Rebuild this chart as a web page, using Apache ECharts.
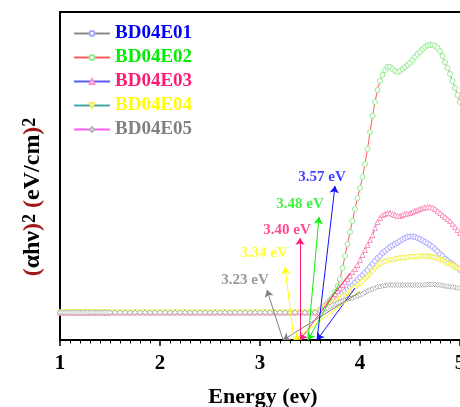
<!DOCTYPE html>
<html>
<head>
<meta charset="utf-8">
<script src="https://cdn.jsdelivr.net/npm/echarts@6/dist/echarts.min.js"></script>
<style>
  html, body { margin: 0; padding: 0; background: #fff; }
  #chart { width: 460px; height: 407px; }
</style>
</head>
<body>
<div id="chart"></div>
<script>
// Tauc plot data: (αhν)² against photon energy for five samples.
const sampleNames = ['BD04E01', 'BD04E02', 'BD04E03', 'BD04E04', 'BD04E05'];

// Flat sub-gap region, where all five traces coincide.
const flatEnergy = [
  1.000, 1.025, 1.050, 1.075, 1.100, 1.125, 1.150, 1.175, 1.200, 1.225,
  1.250, 1.275, 1.300, 1.325, 1.350, 1.375, 1.400, 1.425, 1.450, 1.475,
  1.500, 1.55, 1.60, 1.65, 1.70, 1.75, 1.80, 1.85, 1.90, 1.95,
  2.00, 2.05, 2.10, 2.15, 2.20, 2.25, 2.30, 2.35, 2.40, 2.45,
  2.50, 2.55, 2.60, 2.65, 2.70, 2.75, 2.80, 2.85, 2.90, 2.95,
  3.00, 3.05, 3.10, 3.15, 3.20, 3.25, 3.30, 3.35, 3.40, 3.45,
  3.50, 3.55
];
const flatSignal = [
  2.75, 2.75, 2.75, 2.75, 2.75, 2.75, 2.75, 2.75, 2.75, 2.75,
  2.75, 2.75, 2.75, 2.75, 2.75, 2.75, 2.75, 2.75, 2.75, 2.75,
  2.75, 2.75, 2.75, 2.75, 2.75, 2.75, 2.75, 2.75, 2.75, 2.75,
  2.75, 2.75, 2.75, 2.75, 2.75, 2.75, 2.75, 2.75, 2.75, 2.75,
  2.75, 2.75, 2.75, 2.75, 2.75, 2.75, 2.75, 2.75, 2.75, 2.75,
  2.75, 2.75, 2.75, 2.75, 2.75, 2.75, 2.75, 2.75, 2.75, 2.75,
  2.75, 2.75
];

// Absorption edge and above.
const riseEnergy = [
  3.600, 3.625, 3.650, 3.675, 3.700, 3.725, 3.750, 3.775, 3.800, 3.825,
  3.850, 3.875, 3.900, 3.925, 3.950, 3.975, 4.000, 4.025, 4.050, 4.075,
  4.100, 4.125, 4.150, 4.175, 4.200, 4.225, 4.250, 4.275, 4.300, 4.325,
  4.350, 4.375, 4.400, 4.425, 4.450, 4.475, 4.500, 4.525, 4.550, 4.575,
  4.600, 4.625, 4.650, 4.675, 4.700, 4.725, 4.750, 4.775, 4.800, 4.825,
  4.850, 4.875, 4.900, 4.925, 4.950, 4.975, 5.000
];
const riseE01 = [
  3.0, 3.2, 3.4, 3.6, 3.8, 4.0, 4.2, 4.4, 4.55, 4.7,
  4.9, 5.1, 5.3, 5.5, 5.75, 6.0, 6.25, 6.5, 6.75, 7.0,
  7.3, 7.6, 7.9, 8.2, 8.4, 8.7, 8.9, 9.1, 9.3, 9.45,
  9.6, 9.75, 9.9, 10.05, 10.2, 10.3, 10.35, 10.35, 10.3, 10.2,
  10.1, 9.95, 9.8, 9.65, 9.5, 9.3, 9.1, 8.85, 8.6, 8.4,
  8.15, 7.95, 7.75, 7.6, 7.4, 7.2, 7.0
];
const riseE02 = [
  3.0, 3.2, 3.45, 3.7, 4.0, 4.3, 4.8, 5.4, 6.1, 7.2,
  8.4, 9.6, 10.8, 11.9, 13.1, 14.2, 15.2, 16.3, 17.6, 19.1,
  20.8, 22.4, 23.8, 25.0, 25.9, 26.5, 27.0, 27.3, 27.3, 27.1,
  26.9, 26.8, 26.9, 27.1, 27.3, 27.5, 27.7, 28.0, 28.3, 28.6,
  28.8, 29.1, 29.3, 29.45, 29.5, 29.5, 29.4, 29.2, 28.9, 28.4,
  27.8, 27.2, 26.6, 25.9, 25.2, 24.5, 23.8
];
const riseE03 = [
  3.1, 3.3, 3.5, 3.7, 4.0, 4.3, 4.6, 4.9, 5.2, 5.5,
  5.8, 6.1, 6.4, 6.8, 7.1, 7.5, 8.0, 8.5, 9.0, 9.5,
  10.0, 10.5, 11.2, 11.8, 12.2, 12.5, 12.6, 12.7, 12.7, 12.6,
  12.5, 12.4, 12.4, 12.5, 12.6, 12.65, 12.7, 12.8, 12.9, 13.0,
  13.1, 13.2, 13.25, 13.3, 13.3, 13.25, 13.1, 12.9, 12.7, 12.5,
  12.3, 12.1, 11.9, 11.6, 11.3, 11.0, 10.7
];
const riseE04 = [
  3.0, 3.1, 3.25, 3.4, 3.5, 3.65, 3.8, 3.95, 4.1, 4.25,
  4.4, 4.6, 4.8, 5.0, 5.2, 5.4, 5.6, 5.8, 6.05, 6.3,
  6.5, 6.8, 7.1, 7.35, 7.55, 7.7, 7.8, 7.9, 7.95, 8.0,
  8.05, 8.1, 8.15, 8.2, 8.2, 8.25, 8.25, 8.3, 8.3, 8.3,
  8.35, 8.35, 8.35, 8.35, 8.3, 8.25, 8.2, 8.1, 8.0, 7.9,
  7.75, 7.6, 7.5, 7.4, 7.25, 7.1, 7.0
];
const riseE05 = [
  2.9, 3.0, 3.1, 3.2, 3.35, 3.5, 3.6, 3.7, 3.8, 3.9,
  4.0, 4.1, 4.15, 4.2, 4.3, 4.4, 4.5, 4.6, 4.75, 4.9,
  5.0, 5.1, 5.2, 5.3, 5.35, 5.4, 5.45, 5.5, 5.5, 5.5,
  5.5, 5.5, 5.5, 5.5, 5.5, 5.5, 5.5, 5.5, 5.5, 5.5,
  5.5, 5.5, 5.52, 5.55, 5.55, 5.55, 5.55, 5.5, 5.5, 5.45,
  5.4, 5.35, 5.3, 5.3, 5.25, 5.2, 5.2
];

// Optical band gaps from the linear extrapolations (same order as the samples).
const gapEnergy = [3.57, 3.48, 3.40, 3.34, 3.23];
const gapText = ['3.57 eV', '3.48 eV', '3.40 eV', '3.34 eV', '3.23 eV'];
// Upper point of each linear fit on the absorption edge.
const fitEndEnergy = [3.95, 3.79, 3.90, 4.00, 4.00];
const fitEndSignal = [5.2, 5.6, 6.7, 4.9, 4.8];

// Where each gap callout sits: arrow tip and text centre, in axis units.
const calloutTip = [[3.75, 15.4], [3.59, 12.3], [3.40, 10.2], [3.25, 7.3], [3.07, 5.0]];
const calloutText = [[3.62, 16.3], [3.40, 13.6], [3.27, 11.0], [3.04, 8.7], [2.85, 6.0]];

// Styles
const FONT = '"Liberation Serif", "Times New Roman", serif';
const lineColors = ['#8a8a8a', '#ff5c5c', '#5c5cff', '#4aa3a3', '#ff5cff'];
const markerColors = ['#a9a9ff', '#92ee92', '#ff93c0', '#f2f25e', '#b4b4b4'];
const markerShapes = ['circle', 'circle', 'triangle', 'path://M0,0L10,0L5,9Z', 'diamond'];
const nameColors = ['#0000ff', '#00ee00', '#ff1a75', '#ffff00', '#808080'];
const gapColors = ['#1010ff', '#10ee10', '#ff1a75', '#ffff00', '#808080'];
const riseSets = [riseE01, riseE02, riseE03, riseE04, riseE05];

const chart = echarts.init(document.getElementById('chart'), null, { renderer: 'canvas' });

const curveSeries = sampleNames.map((name, i) => ({
  name,
  type: 'line',
  data: flatEnergy.map((e, k) => [e, flatSignal[k]])
    .concat(riseEnergy.map((e, k) => [e, riseSets[i][k]])),
  symbol: markerShapes[i],
  symbolSize: 5,
  showAllSymbol: true,
  lineStyle: { color: lineColors[i], width: 1 },
  itemStyle: { color: '#fff', borderColor: markerColors[i], borderWidth: 1 },
  emphasis: { disabled: true },
  z: 2
}));

const fitLines = {
  type: 'lines',
  coordinateSystem: 'cartesian2d',
  symbol: ['arrow', 'none'],
  symbolSize: 7,
  lineStyle: { width: 1, opacity: 1 },
  data: gapEnergy.map((g, i) => ({
    coords: [[g, 0], [fitEndEnergy[i], fitEndSignal[i]]],
    lineStyle: { color: gapColors[i] }
  })),
  z: 4
};

const calloutLines = {
  type: 'lines',
  coordinateSystem: 'cartesian2d',
  symbol: ['none', 'arrow'],
  symbolSize: 7,
  lineStyle: { width: 1, opacity: 1 },
  data: gapEnergy.map((g, i) => ({
    coords: [[g, 0], calloutTip[i]],
    lineStyle: { color: gapColors[i] }
  })),
  z: 4
};

const calloutLabels = {
  type: 'scatter',
  symbolSize: 0,
  data: gapText.map((t, i) => ({
    value: calloutText[i],
    label: { color: gapColors[i] }
  })),
  label: {
    show: true,
    position: 'inside',
    formatter: (p) => gapText[p.dataIndex],
    fontFamily: FONT,
    fontWeight: 'bold',
    fontSize: 15
  },
  emphasis: { disabled: true },
  z: 6
};

const legendText = (color) => ({ fontFamily: FONT, fontWeight: 'bold', fontSize: 19, color });

chart.setOption({
  animation: false,
  backgroundColor: '#fff',
  grid: {
    left: 60, top: 12, width: 420, height: 328,
    outerBoundsMode: 'none',
    containLabel: false,
    show: true, borderColor: '#000', borderWidth: 2
  },
  legend: {
    orient: 'vertical',
    left: 68,
    top: 19,
    itemWidth: 36,
    itemHeight: 6,
    itemGap: 5,
    textStyle: legendText('#000'),
    data: sampleNames.map((n, i) => ({ name: n, textStyle: legendText(nameColors[i]) }))
  },
  xAxis: {
    type: 'value',
    min: 1,
    max: 5.2,
    interval: 1,
    name: 'Energy (ev)',
    nameLocation: 'middle',
    nameGap: 46,
    nameTextStyle: { fontFamily: FONT, fontWeight: 'bold', fontSize: 22, color: '#000', padding: [0, 14, 0, 0] },
    axisLine: { lineStyle: { color: '#000', width: 2 } },
    axisTick: { length: 6, lineStyle: { color: '#000', width: 1.5 } },
    minorTick: { show: true, splitNumber: 10, length: 3.5, lineStyle: { color: '#000', width: 1 } },
    axisLabel: { fontFamily: FONT, fontWeight: 'bold', fontSize: 21, color: '#000', margin: 13 },
    splitLine: { show: false }
  },
  yAxis: {
    type: 'value',
    min: 0,
    max: 32.8,
    axisLine: { show: true, lineStyle: { color: '#000', width: 1.5 } },
    axisTick: { show: false },
    axisLabel: { show: false },
    splitLine: { show: false }
  },
  graphic: [{
    type: 'text',
    x: 33,
    y: 197,
    rotation: Math.PI / 2,
    style: {
      text: '{p|(}{m|αhν}{p|)}{s|2} {p|(}{m|eV/cm}{p|)}{s|2}',
      align: 'center',
      verticalAlign: 'middle',
      fontFamily: FONT,
      fontWeight: 'bold',
      fontSize: 24,
      rich: {
        p: { fontFamily: FONT, fontWeight: 'bold', fontSize: 24, fill: '#a01818', color: '#a01818' },
        m: { fontFamily: FONT, fontWeight: 'bold', fontSize: 24, fill: '#000', color: '#000' },
        s: { fontFamily: FONT, fontWeight: 'bold', fontSize: 18, verticalAlign: 'top', fill: '#000', color: '#000' }
      }
    }
  }],
  series: curveSeries.concat([fitLines, calloutLines, calloutLabels])
});
</script>
</body>
</html>
